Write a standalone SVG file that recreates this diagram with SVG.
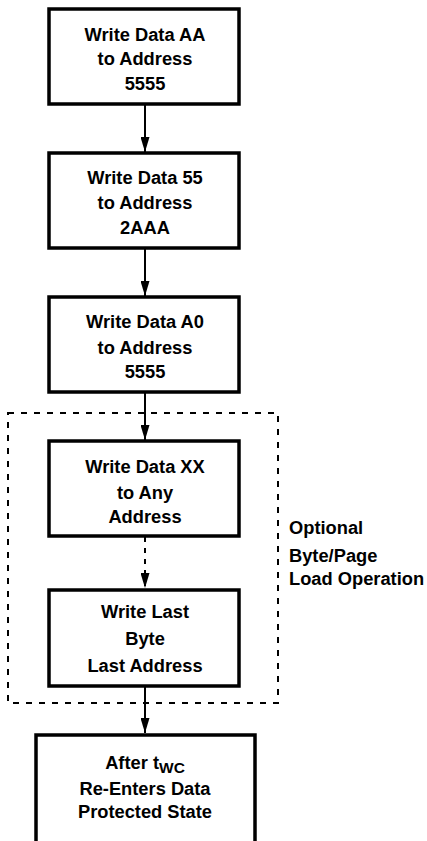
<svg xmlns="http://www.w3.org/2000/svg" width="427" height="841" viewBox="0 0 427 841">
<style>
.box{fill:#fff;stroke:#000;stroke-width:3.5}
.t{font-family:"Liberation Sans",Arial,sans-serif;font-weight:bold;font-size:18.3px;fill:#000;text-anchor:middle}
.l{font-family:"Liberation Sans",Arial,sans-serif;font-weight:bold;font-size:18.3px;fill:#000}
.c{stroke:#000;stroke-width:2;fill:none}
</style>
<defs>
<marker id="a" viewBox="0 0 15 9" refX="15" refY="4.5" markerWidth="15" markerHeight="9" markerUnits="userSpaceOnUse" orient="auto">
<path d="M0,0 L15,4.5 L0,9 Z" fill="#000"/>
</marker>
</defs>
<g id="optional-group">
<rect x="8" y="413" width="270" height="290" fill="none" stroke="#000" stroke-width="2" stroke-dasharray="6,7"/>
<text class="l" x="289" y="534">Optional</text>
<text class="l" x="289" y="562">Byte/Page</text>
<text class="l" x="289" y="585">Load Operation</text>
</g>
<g id="connectors">
<line class="c" x1="145" y1="105" x2="145" y2="152" marker-end="url(#a)"/>
<line class="c" x1="145" y1="249" x2="145" y2="296" marker-end="url(#a)"/>
<line class="c" x1="145" y1="393" x2="145" y2="440" marker-end="url(#a)"/>
<line class="c" x1="145" y1="537" x2="145" y2="588" stroke-dasharray="5,6" marker-end="url(#a)"/>
<line class="c" x1="145" y1="687" x2="145" y2="733" marker-end="url(#a)"/>
</g>
<g id="n1">
<rect class="box" x="49" y="9" width="190" height="95"/>
<text class="t" x="145" y="41">Write Data AA</text>
<text class="t" x="145" y="65">to Address</text>
<text class="t" x="145" y="90">5555</text>
</g>
<g id="n2">
<rect class="box" x="49" y="153" width="190" height="95"/>
<text class="t" x="145" y="184">Write Data 55</text>
<text class="t" x="145" y="209">to Address</text>
<text class="t" x="145" y="234">2AAA</text>
</g>
<g id="n3">
<rect class="box" x="49" y="297" width="190" height="95"/>
<text class="t" x="145" y="328">Write Data A0</text>
<text class="t" x="145" y="354">to Address</text>
<text class="t" x="145" y="378">5555</text>
</g>
<g id="n4">
<rect class="box" x="49" y="441" width="190" height="95"/>
<text class="t" x="145" y="473">Write Data XX</text>
<text class="t" x="145" y="499">to Any</text>
<text class="t" x="145" y="523">Address</text>
</g>
<g id="n5">
<rect class="box" x="49" y="590" width="190" height="96"/>
<text class="t" x="145" y="618">Write Last</text>
<text class="t" x="145" y="645">Byte</text>
<text class="t" x="145" y="672">Last Address</text>
</g>
<g id="n6">
<path d="M36,845 L36,735 L255,735 L255,845" fill="#fff" stroke="#000" stroke-width="3.5"/>
<text class="t" x="145" y="769">After t<tspan font-size="15.5" dy="4">WC</tspan></text>
<text class="t" x="145" y="795">Re-Enters Data</text>
<text class="t" x="145" y="818">Protected State</text>
</g>
</svg>
